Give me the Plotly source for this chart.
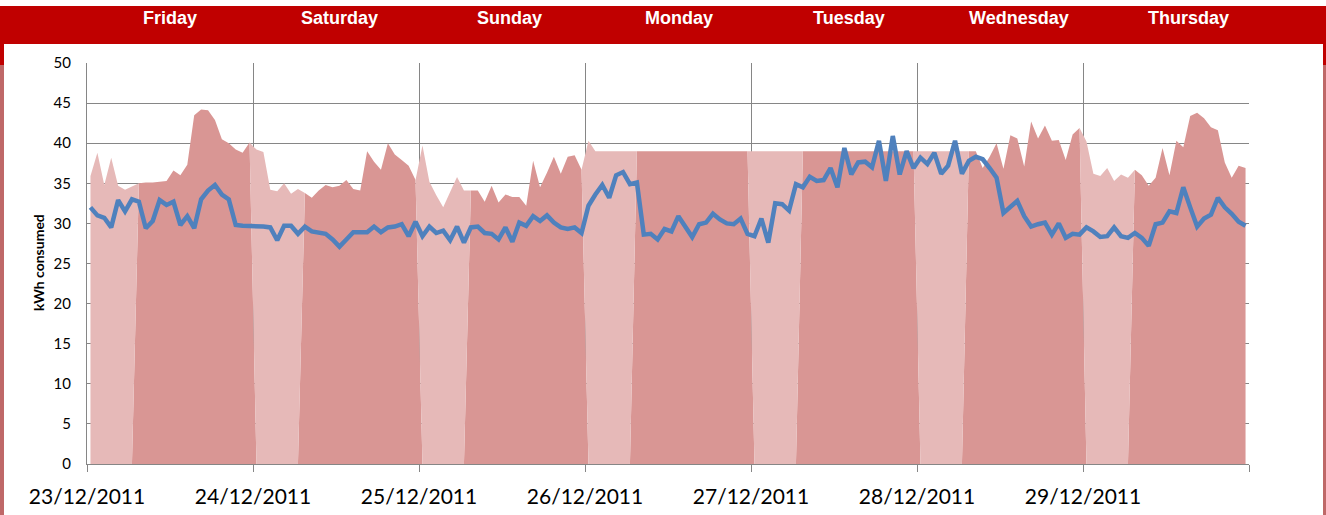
import pandas as pd
import plotly.graph_objects as go

# ---- data -----------------------------------------------------------------
day_names = ["Friday", "Saturday", "Sunday", "Monday", "Tuesday", "Wednesday", "Thursday"]
date_labels = ["23/12/2011", "24/12/2011", "25/12/2011", "26/12/2011",
               "27/12/2011", "28/12/2011", "29/12/2011"]
y_ticks = [0, 5, 10, 15, 20, 25, 30, 35, 40, 45, 50]
night_hours = 7  # hourly readings before 07:00 fall in the night band

# hourly reference consumption (shaded area), one row per day
area_kwh = [
    35.9, 38.8, 34.8, 38.2, 34.7, 34.2, 34.6, 35.0, 35.1, 35.1, 35.2, 35.3,
    36.6, 36.0, 37.3, 43.5, 44.2, 44.1, 42.9, 40.5, 40.0, 39.2, 38.8, 40.1,
    39.2, 38.9, 34.2, 34.0, 35.0, 33.7, 34.3, 33.8, 33.2, 34.1, 34.8, 34.5,
    34.7, 35.4, 34.3, 34.1, 39.0, 37.7, 36.7, 40.0, 38.6, 37.9, 37.2, 35.4,
    39.7, 35.2, 33.5, 32.0, 33.9, 35.8, 34.1, 34.1, 34.1, 32.7, 34.7, 32.6,
    33.6, 33.3, 33.3, 32.2, 37.8, 34.5, 36.3, 38.3, 36.2, 38.3, 38.5, 36.7,
    40.3, 39.0, 39.0, 39.0, 39.0, 39.0, 39.0, 39.0, 39.0, 39.0, 39.0, 39.0,
    39.0, 39.0, 39.0, 39.0, 39.0, 39.0, 39.0, 39.0, 39.0, 39.0, 39.0, 39.0,
    39.0, 39.0, 39.0, 39.0, 39.0, 39.0, 39.0, 39.0, 39.0, 39.0, 39.0, 39.0,
    39.0, 39.0, 39.0, 39.0, 39.0, 39.0, 39.0, 39.0, 39.0, 39.0, 39.0, 39.0,
    39.0, 39.0, 39.0, 39.0, 39.0, 39.0, 39.0, 39.0, 39.0, 36.9, 38.3, 40.0,
    36.8, 41.0, 40.6, 37.1, 42.7, 40.6, 42.2, 40.3, 40.4, 37.9, 41.1, 41.9,
    40.2, 36.2, 35.9, 36.9, 35.3, 36.1, 35.7, 36.7, 36.0, 34.7, 35.7, 39.4,
    36.0, 40.3, 39.5, 43.4, 43.8, 43.1, 42.0, 41.6, 37.6, 35.7, 37.2, 36.9,
]

# hourly measured consumption (blue line), one row per day
line_kwh = [
    32.0, 31.0, 30.7, 29.5, 32.9, 31.5, 33.0, 32.7, 29.4, 30.3, 32.9, 32.3,
    32.7, 29.8, 30.9, 29.4, 33.0, 34.1, 34.8, 33.6, 33.0, 29.8, 29.7, 29.7,
    29.7, 29.6, 29.5, 27.9, 29.7, 29.7, 28.7, 29.6, 29.0, 28.8, 28.7, 28.0,
    27.1, 28.0, 28.9, 28.9, 28.9, 29.6, 28.9, 29.5, 29.6, 29.9, 28.4, 30.2,
    28.4, 29.6, 28.8, 29.1, 27.9, 29.6, 27.6, 29.5, 29.6, 28.8, 28.7, 28.0,
    29.5, 27.7, 30.1, 29.7, 30.9, 30.3, 31.0, 30.1, 29.5, 29.3, 29.5, 28.8,
    32.2, 33.6, 34.8, 33.2, 36.0, 36.4, 34.9, 35.1, 28.6, 28.7, 28.0, 29.3,
    29.0, 30.9, 29.5, 28.3, 29.9, 30.1, 31.2, 30.5, 30.0, 29.9, 30.6, 28.7,
    28.4, 30.6, 27.6, 32.5, 32.4, 31.6, 34.9, 34.5, 35.8, 35.3, 35.4, 36.9,
    34.5, 39.4, 36.1, 37.6, 37.7, 37.0, 40.3, 35.3, 40.9, 36.1, 39.0, 36.9,
    38.2, 37.4, 38.8, 36.2, 37.2, 40.3, 36.2, 37.8, 38.3, 38.0, 36.9, 35.7,
    31.3, 32.0, 32.8, 30.9, 29.6, 29.9, 30.1, 28.6, 30.0, 28.2, 28.7, 28.6,
    29.5, 29.0, 28.3, 28.4, 29.5, 28.4, 28.2, 28.8, 28.2, 27.2, 29.9, 30.1,
    31.5, 31.3, 34.5, 32.0, 29.6, 30.6, 31.1, 33.2, 32.0, 31.2, 30.2, 29.7,
]

# ---- derived series --------------------------------------------------------
start = pd.Timestamp("2011-12-23 00:00")
n = len(area_kwh)
times = [start + pd.Timedelta(hours=h + 0.5) for h in range(n)]
hour_of_day = [h % 24 for h in range(n)]
day_band = [v if hd >= night_hours else 0 for v, hd in zip(area_kwh, hour_of_day)]
night_band = [v if hd < night_hours else 0 for v, hd in zip(area_kwh, hour_of_day)]

midnights = [start + pd.Timedelta(days=d) for d in range(len(date_labels) + 1)]

# ---- page geometry ---------------------------------------------------------
W, H = 1326, 515
ML, MR, MT, MB = 87, 77, 63, 51
PW, PH = W - ML - MR, H - MT - MB


def px(x):
    return (x - ML) / PW


def py(y):
    return (H - MB - y) / PH


RED = "#C00000"
MUTED = "#BF6868"
GRID = "#868686"
LIGHT = "#E6B9B8"
DARK = "#D99694"
BLUE = "#4F81BD"

fig = go.Figure()
fig.add_trace(go.Scatter(x=times, y=day_band, stackgroup="kwh", mode="none",
                         fillcolor=DARK, line=dict(width=0), hoverinfo="skip"))
fig.add_trace(go.Scatter(x=times, y=night_band, stackgroup="kwh", mode="none",
                         fillcolor=LIGHT, line=dict(width=0), hoverinfo="skip"))
fig.add_trace(go.Scatter(x=times, y=line_kwh, mode="lines",
                         line=dict(color=BLUE, width=4.5), hoverinfo="skip"))

shapes = [
    # header band
    dict(type="rect", xref="paper", yref="paper", x0=px(0), x1=px(W), y0=py(44), y1=py(6),
         fillcolor=RED, line=dict(width=0), layer="above"),
    # side strips
    dict(type="rect", xref="paper", yref="paper", x0=px(0), x1=px(4), y0=py(65), y1=py(44),
         fillcolor=RED, line=dict(width=0)),
    dict(type="rect", xref="paper", yref="paper", x0=px(0), x1=px(4), y0=py(H), y1=py(65),
         fillcolor=MUTED, line=dict(width=0)),
    dict(type="rect", xref="paper", yref="paper", x0=px(1323), x1=px(W), y0=py(65), y1=py(44),
         fillcolor=RED, line=dict(width=0)),
    dict(type="rect", xref="paper", yref="paper", x0=px(1323), x1=px(W), y0=py(H), y1=py(65),
         fillcolor=MUTED, line=dict(width=0)),
]

# day names sit in the header band at a fixed spacing
header_x0, header_step = 170, 169.8
annotations = [
    dict(x=px(header_x0 + i * header_step), y=py(18), xref="paper", yref="paper",
         text=f"<b>{name}</b>", showarrow=False,
         font=dict(family="Liberation Sans, Arial", size=18, color="white"),
         xanchor="center", yanchor="middle")
    for i, name in enumerate(day_names)
]
annotations.append(
    dict(x=px(38), y=py(263), xref="paper", yref="paper", text="<b>kWh consumed</b>",
         textangle=-90, showarrow=False, xanchor="center", yanchor="middle",
         font=dict(family="Lato, Open Sans", size=14, color="black"))
)

fig.update_layout(
    width=W, height=H,
    margin=dict(l=ML, r=MR, t=MT, b=MB, pad=0, autoexpand=False),
    paper_bgcolor="white", plot_bgcolor="white",
    showlegend=False, hovermode=False,
    shapes=shapes, annotations=annotations,
    xaxis=dict(
        type="date", range=[midnights[0], midnights[-1]], automargin=False,
        tickmode="array", tickvals=midnights, ticktext=date_labels + [""],
        showgrid=True, gridcolor=GRID, gridwidth=1,
        showline=True, linecolor=GRID, linewidth=1,
        ticks="outside", ticklen=7, tickcolor=GRID, ticklabelstandoff=7,
        tickfont=dict(family="Lato, Open Sans", size=21, color="black"),
        zeroline=False, fixedrange=True,
    ),
    yaxis=dict(
        range=[0, 50], tickmode="array", tickvals=y_ticks, automargin=False,
        showgrid=True, gridcolor=GRID, gridwidth=1,
        showline=True, linecolor=GRID, linewidth=1,
        ticks="", ticklabelstandoff=12,
        tickfont=dict(family="Lato, Open Sans", size=15, color="black"),
        zeroline=False, fixedrange=True,
    ),
)

fig.write_html("out.html")
